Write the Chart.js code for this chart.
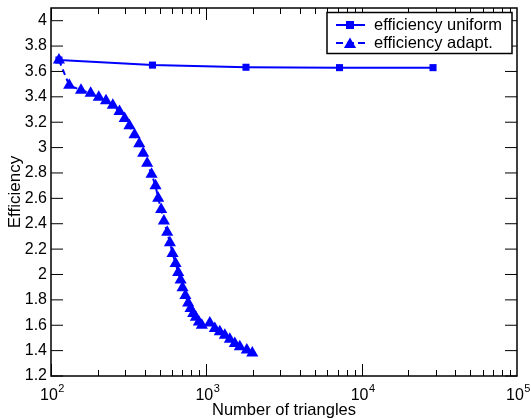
<!DOCTYPE html>
<html><head><meta charset="utf-8">
<script src="https://cdn.jsdelivr.net/npm/chart.js@4.4.0/dist/chart.umd.min.js"></script>
<style>html,body{margin:0;padding:0;background:#fff;}#wrap{width:531px;height:419px;}</style>
</head><body><div id="wrap"><canvas id="c" width="531" height="419"></canvas></div>
<script>
// ---- data ----
const uniformX = [112.5, 450, 1800, 7200, 28800];
const uniformY = [3.69, 3.65, 3.633, 3.63, 3.63];
const adaptX = [112.5, 131, 156, 180, 203, 226, 250, 276, 298, 320, 345, 370, 392, 416, 444, 471, 490, 512, 533, 560, 583, 606, 634, 659, 683, 703, 733, 764, 791, 823, 856, 895, 935, 1053, 1134, 1221, 1315, 1416, 1525, 1642, 1822, 1976];
const adaptY = [3.69, 3.491, 3.452, 3.428, 3.397, 3.369, 3.333, 3.284, 3.229, 3.173, 3.101, 3.031, 2.955, 2.876, 2.789, 2.700, 2.600, 2.513, 2.421, 2.332, 2.251, 2.166, 2.087, 2.016, 1.956, 1.896, 1.835, 1.776, 1.732, 1.693, 1.662, 1.626, 1.599, 1.618, 1.575, 1.549, 1.522, 1.490, 1.456, 1.430, 1.405, 1.382];
const xTickValues = [100, 1000, 10000, 100000];
const xTickBase = '10';
const xTickExp = ['2', '3', '4', '5'];
const yTickValues = [1.2, 1.4, 1.6, 1.8, 2, 2.2, 2.4, 2.6, 2.8, 3, 3.2, 3.4, 3.6, 3.8, 4];
const yTickLabels = ['1.2', '1.4', '1.6', '1.8', '2', '2.2', '2.4', '2.6', '2.8', '3', '3.2', '3.4', '3.6', '3.8', '4'];
const seriesNames = ['efficiency uniform', 'efficiency adapt.'];

const FONT = 'Liberation Sans, Arial, Helvetica, sans-serif';
const BLUE = '#0000ff';

const frameTicks = {
  id: 'frameTicks',
  afterDraw(chart) {
    const ctx = chart.ctx, a = chart.chartArea;
    const xs = chart.scales.x, ys = chart.scales.y;
    ctx.save();
    ctx.strokeStyle = '#000';
    ctx.lineWidth = 1;
    ctx.beginPath();
    for (let e = 2; e < 5; e++) {
      for (let k = 1; k < 10; k++) {
        const v = k * Math.pow(10, e);
        const px = Math.round(xs.getPixelForValue(v)) + 0.5;
        const len = k === 1 ? 12 : 6;
        ctx.moveTo(px, a.bottom); ctx.lineTo(px, a.bottom - len);
        ctx.moveTo(px, a.top); ctx.lineTo(px, a.top + len);
      }
    }
    yTickValues.forEach(v => {
      const py = ys.getPixelForValue(v);
      ctx.moveTo(a.left, py); ctx.lineTo(a.left + 12, py);
      ctx.moveTo(a.right, py); ctx.lineTo(a.right - 12, py);
    });
    ctx.stroke();
    ctx.lineWidth = 1.5;
    ctx.strokeRect(a.left, a.top, a.right - a.left, a.bottom - a.top);
    // x tick labels: base with raised exponent
    ctx.fillStyle = '#000';
    ctx.textBaseline = 'alphabetic';
    ctx.textAlign = 'left';
    xTickValues.forEach((v, i) => {
      const px = xs.getPixelForValue(v);
      ctx.font = '16px ' + FONT;
      const wb = ctx.measureText(xTickBase).width;
      ctx.font = '11px ' + FONT;
      const we = ctx.measureText(xTickExp[i]).width;
      const x0 = px - (wb + we) / 2 + 1;
      ctx.font = '16px ' + FONT;
      ctx.fillText(xTickBase, x0, a.bottom + 24);
      ctx.font = '11px ' + FONT;
      ctx.fillText(xTickExp[i], x0 + wb + 0.5, a.bottom + 16);
    });
    ctx.restore();
  }
};

function drawTri(ctx, x, y, r) {
  ctx.beginPath();
  ctx.moveTo(x, y - r);
  ctx.lineTo(x + r * Math.sin(2 * Math.PI / 3), y - r * Math.cos(2 * Math.PI / 3));
  ctx.lineTo(x + r * Math.sin(4 * Math.PI / 3), y - r * Math.cos(4 * Math.PI / 3));
  ctx.closePath();
  ctx.fill();
}

const boxLegend = {
  id: 'boxLegend',
  afterDraw(chart) {
    const ctx = chart.ctx;
    ctx.save();
    ctx.fillStyle = '#fff';
    ctx.fillRect(327, 12.5, 185, 41);
    ctx.strokeStyle = '#000';
    ctx.lineWidth = 1.5;
    ctx.strokeRect(327, 12.5, 185, 41);
    ctx.strokeStyle = BLUE; ctx.fillStyle = BLUE; ctx.lineWidth = 2;
    ctx.beginPath(); ctx.moveTo(336, 25); ctx.lineTo(365, 25); ctx.stroke();
    ctx.fillRect(346, 21, 8, 8);
    ctx.setLineDash([7, 4]);
    ctx.beginPath(); ctx.moveTo(336, 43); ctx.lineTo(365, 43); ctx.stroke();
    ctx.setLineDash([]);
    drawTri(ctx, 350, 44.5, 7);
    ctx.fillStyle = '#000';
    ctx.font = '16.5px ' + FONT;
    ctx.textBaseline = 'middle';
    ctx.fillText(seriesNames[0], 374, 25);
    ctx.fillText(seriesNames[1], 374, 43);
    ctx.restore();
  }
};

new Chart(document.getElementById('c'), {
  type: 'line',
  data: {
    datasets: [
      {
        label: seriesNames[0],
        data: uniformX.map((x, i) => ({ x, y: uniformY[i] })),
        borderColor: BLUE, backgroundColor: BLUE, borderWidth: 2,
        pointStyle: 'rect', pointRadius: 5, pointBorderWidth: 0,
        tension: 0
      },
      {
        label: seriesNames[1],
        data: adaptX.map((x, i) => ({ x, y: adaptY[i] })),
        borderColor: BLUE, backgroundColor: BLUE, borderWidth: 2, borderDash: [6, 4],
        pointStyle: 'triangle', pointRadius: 7, pointBorderWidth: 0,
        tension: 0
      }
    ]
  },
  options: {
    responsive: false, animation: false, devicePixelRatio: 1,
    layout: { padding: { left: 0, right: 14, top: 8, bottom: 0 } },
    plugins: { legend: { display: false }, tooltip: { enabled: false } },
    scales: {
      x: {
        type: 'logarithmic', min: 100, max: 100000,
        grid: { display: false, drawTicks: false }, border: { display: false },
        afterBuildTicks(s) { s.ticks = xTickValues.map(v => ({ value: v, major: true })); },
        afterFit(s) { s.height = 43; s.paddingLeft = 0; s.paddingRight = 0; },
        ticks: { display: false },
        title: { display: true, text: 'Number of triangles', color: '#000', font: { family: FONT, size: 16.5 }, padding: { top: 0, bottom: -1 } }
      },
      y: {
        type: 'linear', min: 1.2, max: 4.1,
        grid: { display: false, drawTicks: false }, border: { display: false },
        afterBuildTicks(s) { s.ticks = yTickValues.map(v => ({ value: v })); },
        afterFit(s) { s.width = 51; s.paddingTop = 0; s.paddingBottom = 0; },
        ticks: {
          autoSkip: false, padding: 4, color: '#000',
          font: { family: FONT, size: 16 },
          callback(v) { const i = yTickValues.findIndex(t => Math.abs(t - v) < 1e-9); return i >= 0 ? yTickLabels[i] : ''; }
        },
        title: { display: true, text: 'Efficiency', color: '#000', font: { family: FONT, size: 17 }, padding: { top: 5, bottom: 0 } }
      }
    }
  },
  plugins: [frameTicks, boxLegend]
});
</script></body></html>
